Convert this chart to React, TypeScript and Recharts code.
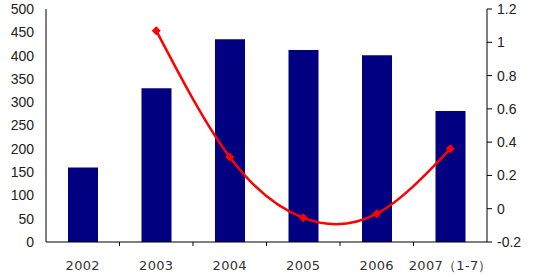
import React from 'react';
import { ComposedChart, Bar, Line, XAxis, YAxis } from 'recharts';

const categories = ['2002', '2003', '2004', '2005', '2006', '2007（1-7）'];
const barValues = [160, 330, 435, 412, 401, 281];
const lineValues: (number | null)[] = [null, 1.07, 0.31, -0.055, -0.03, 0.36];
const leftTicks = [0, 50, 100, 150, 200, 250, 300, 350, 400, 450, 500];
const rightTicks = [-0.2, 0, 0.2, 0.4, 0.6, 0.8, 1, 1.2];

const data = categories.map((c, i) => ({ name: c, bar: barValues[i], line: lineValues[i] }));

const Diamond = (props: any) => {
  const { cx, cy, value } = props;
  if (value == null || cx == null || cy == null) return null;
  const s = 4.5;
  return <path d={`M${cx},${cy - s}L${cx + s},${cy}L${cx},${cy + s}L${cx - s},${cy}Z`} fill="#ff0000" />;
};

const XTick = (props: any) => {
  const { x, y, payload, index } = props;
  const half = 441 / 6 / 2;
  return (
    <g>
      {index > 0 && <line x1={x - half} x2={x - half} y1={y - 8} y2={y - 4} stroke="#000" />}
      <text x={x} y={y + 20} textAnchor="middle" fontSize={13} fill="#333" fontFamily="DejaVu Sans" letterSpacing={0.3}>
        {payload.value}
      </text>
    </g>
  );
};

export default function App() {
  return (
    <div style={{ position: 'absolute', left: 0, top: 0, background: '#fff' }}>
      <ComposedChart width={540} height={277} data={data} margin={{ top: 9, right: 0, left: 0, bottom: 0 }} barCategoryGap={0}>
        <XAxis dataKey="name" height={35} tickLine={false} axisLine={{ stroke: '#000' }} tick={<XTick />} interval={0} />
        <YAxis
          yAxisId="left"
          width={46}
          domain={[0, 500]}
          ticks={leftTicks}
          interval={0}
          tickLine={false}
          axisLine={{ stroke: '#000' }}
          tick={{ fontSize: 14, fill: '#222', fontFamily: 'Liberation Sans' }}
          tickMargin={6}
        />
        <YAxis
          yAxisId="right"
          orientation="right"
          width={53}
          domain={[-0.2, 1.2]}
          ticks={rightTicks}
          interval={0}
          tickSize={5}
          tickLine={{ stroke: '#000' }}
          axisLine={{ stroke: '#000' }}
          tickFormatter={(v: number) => String(Math.round(v * 10) / 10)}
          tick={{ fontSize: 14, fill: '#222', fontFamily: 'Liberation Sans' }}
          tickMargin={5}
        />
        <Bar yAxisId="left" dataKey="bar" fill="#000080" barSize={30} isAnimationActive={false} />
        <Line
          yAxisId="right"
          type="natural"
          dataKey="line"
          stroke="#ff0000"
          strokeWidth={2.5}
          dot={<Diamond />}
          activeDot={false}
          connectNulls={false}
          isAnimationActive={false}
        />
      </ComposedChart>
    </div>
  );
}
